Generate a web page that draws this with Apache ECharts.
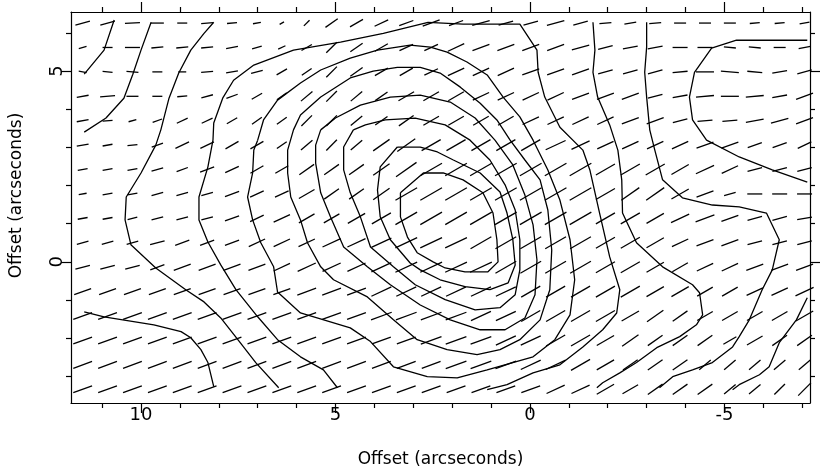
<!DOCTYPE html>
<html>
<head>
<meta charset="utf-8">
<script src="https://cdn.jsdelivr.net/npm/echarts@6/dist/echarts.min.js"></script>
<style>
  html, body { margin: 0; padding: 0; background: #fff; }
  #chart { width: 825px; height: 475px; }
</style>
</head>
<body>
<div id="chart"></div>
<script>
// 偏振矢量网格位置（角秒）
var gridX = [11.5, 10.86, 10.22, 9.58, 8.94, 8.3, 7.66, 7.02, 6.38, 5.74,
             5.1, 4.46, 3.82, 3.18, 2.54, 1.9, 1.26, 0.62, -0.02, -0.66,
             -1.3, -1.94, -2.58, -3.22, -3.86, -4.5, -5.14, -5.78, -6.42, -7.06];
var gridY = [6.26, 5.62, 4.98, 4.34, 3.7, 3.06, 2.42, 1.78, 1.14, 0.5,
             -0.14, -0.78, -1.42, -2.06, -2.7, -3.34];

// 每行矢量的方向角（度，从水平量起）
var vecAngle = [
  [15,15,3,0,0,5,5,10,30,45, 35,30,25,20,20,20,15,15,15,15, 15,5,10,5,0,0,0,5,5,10],
  [15,0,0,5,5,5,10,15,25,30, 45,35,30,25,25,25,20,20,20,20, 15,15,10,10,0,0,-5,-5,0,10],
  [-10,-5,-5,0,0,5,10,15,30,35, 45,35,30,30,25,25,25,25,20,20, 20,15,15,15,5,0,-5,-5,10,15],
  [10,5,0,0,5,15,20,30,35,40, 45,40,35,30,30,30,25,25,25,25, 20,20,20,15,10,5,0,5,10,20],
  [10,5,15,20,25,25,30,35,35,45, 45,40,35,35,30,30,30,30,25,25, 25,25,20,20,15,5,5,10,15,20],
  [10,10,5,20,25,25,30,30,35,40, 45,40,35,35,30,30,30,30,30,25, 25,25,25,25,25,20,20,20,20,25],
  [10,10,10,15,20,20,25,30,30,35, 35,35,35,35,30,30,30,30,30,30, 30,30,30,30,30,25,25,15,15,15],
  [10,10,10,15,15,15,20,25,25,30, 35,35,35,30,30,30,30,30,30,30, 30,30,35,35,30,20,15,0,0,0],
  [10,10,15,15,15,15,20,25,25,30, 30,30,30,30,30,30,30,30,30,30, 30,30,30,30,25,20,20,15,15,10],
  [15,15,15,15,20,20,20,25,25,25, 25,25,25,25,25,25,30,30,30,30, 30,30,30,30,25,20,20,15,15,15],
  [15,15,15,20,20,20,20,20,25,25, 25,25,25,25,25,25,25,30,30,30, 30,30,30,30,30,25,25,20,20,20],
  [20,20,20,20,20,20,20,20,20,20, 20,20,25,25,25,25,25,25,30,30, 30,30,30,30,30,30,30,25,25,25],
  [20,20,20,20,20,20,20,20,20,20, 20,20,20,20,20,20,25,25,30,30, 30,30,30,35,35,30,30,30,30,30],
  [20,20,20,20,20,20,20,20,20,20, 20,20,20,20,20,20,20,25,25,30, 30,30,35,35,35,35,30,30,35,35],
  [20,20,20,20,20,20,20,20,20,20, 20,20,20,20,20,20,20,20,25,25, 30,30,35,35,35,40,40,40,40,40],
  [20,20,20,20,20,20,20,20,20,20, 20,20,20,20,20,20,20,20,20,25, 25,30,30,35,35,35,40,40,45,45]
];

// 每行矢量的长度（偏振度）
var vecLen = [
  [15,15,15,13,10,12,10,8,5,8, 15,15,15,15,18,15,18,15,15,18, 15,12,12,12,12,12,12,10,10,10],
  [8,10,15,12,12,12,12,10,8,12, 15,15,15,15,15,18,18,18,18,18, 18,15,15,15,15,15,12,12,12,12],
  [8,10,12,10,8,12,12,12,12,12, 15,15,15,15,15,18,18,18,18,18, 18,15,15,15,15,18,18,15,15,15],
  [12,15,12,10,10,12,12,12,12,15, 15,15,15,18,18,18,18,18,18,18, 18,18,18,15,15,18,18,18,15,18],
  [12,10,8,10,12,12,12,12,12,15, 15,15,15,18,18,18,18,18,18,18, 18,18,18,18,15,15,15,18,18,18],
  [12,10,10,12,15,15,15,15,12,15, 15,15,20,22,22,22,22,22,22,22, 20,18,18,18,18,18,18,15,15,15],
  [10,10,10,12,12,15,15,15,15,18, 18,18,20,25,25,25,25,25,25,25, 25,22,22,22,20,20,18,15,15,15],
  [8,10,10,12,12,12,15,15,15,18, 18,18,20,25,25,25,25,25,25,25, 25,22,22,22,20,18,12,15,15,15],
  [10,10,10,12,12,12,15,15,18,18, 18,20,22,25,25,25,25,25,25,25, 25,22,22,20,20,20,18,15,15,15],
  [12,12,12,15,15,15,15,18,18,18, 20,20,22,24,24,24,24,24,24,24, 24,22,22,20,18,18,18,15,15,15],
  [15,15,15,15,18,18,18,18,18,20, 20,20,22,24,24,24,24,24,24,24, 24,22,22,20,18,18,18,18,18,18],
  [18,18,18,18,18,18,18,18,18,20, 20,20,22,22,22,22,22,22,22,22, 22,22,22,20,20,18,18,18,18,20],
  [20,20,20,20,20,20,20,20,20,20, 20,20,22,22,22,22,22,22,22,22, 22,22,20,20,18,18,18,18,18,20],
  [20,20,20,20,20,20,20,20,20,20, 20,20,20,20,22,22,22,22,22,22, 22,20,20,18,18,18,15,18,18,18],
  [20,20,20,20,20,20,20,20,20,20, 20,20,20,20,20,22,22,22,22,22, 22,20,18,18,18,15,15,15,15,15],
  [20,20,20,20,20,20,20,20,20,20, 20,20,20,20,20,20,20,20,20,20, 20,20,18,18,18,18,15,15,15,18]
];

// 等值线（角秒）
var contourA = [[10.69,6.34],[10.95,5.55],[11.46,4.92]];
var contourB = [[9.74,6.28],[10.0,5.55],[10.21,4.92],[10.44,4.29],[10.9,3.77],[11.46,3.4]];
var contourC = [[8.13,6.28],[8.38,5.99],[8.72,5.55],[9.03,4.95],[9.28,4.29],[9.49,3.46],[9.62,3.06],
  [10.0,2.33],[10.38,1.7],[10.41,1.1],[10.26,0.45],[9.62,-0.16],[8.85,-0.73],[8.38,-1.05],
  [7.95,-1.47],[7.51,-2.04],[7.05,-2.64],[6.46,-3.3]];
var contourD = [[11.46,-1.31],[10.95,-1.44],[9.67,-1.65],[8.97,-1.83],[8.72,-1.99],[8.46,-2.3],
  [8.28,-2.64],[8.13,-3.27]];
var contourE = [[4.95,-3.3],[5.31,-2.83],[5.9,-2.49],[6.49,-2.04],[7.0,-1.44],[7.56,-0.73],[7.95,-0.08],
  [8.28,0.52],[8.51,1.1],[8.51,1.7],[8.28,2.49],[8.15,3.19],[8.13,3.64],[7.9,4.29],[7.62,4.76],
  [7.1,5.16],[6.08,5.55],[4.87,5.76],[3.77,5.99],[2.62,6.28],[1.72,6.23],[0.26,6.23],[-0.18,5.55],
  [-0.21,4.97],[-0.38,4.32],[-0.77,3.53],[-1.36,2.93],[-1.54,2.41],[-1.79,1.28],[-2.05,0.13],
  [-2.31,-0.73],[-2.23,-1.34],[-1.87,-1.78],[-1.36,-2.23],[-0.77,-2.7],[-0.08,-2.91],[0.59,-3.22],[1.1,-3.35]];
var contourR2 = [[7.0,3.19],[6.85,3.72],[6.49,4.24],[5.9,4.69],[5.38,5.03],[4.62,5.34],[3.92,5.55],
  [3.08,5.68],[2.56,5.63],[2.13,5.5],[1.62,5.24],[1.1,4.9],[0.69,4.32],[0.26,3.8],[-0.08,3.19],
  [-0.46,2.41],[-0.77,1.62],[-1.03,0.58],[-1.15,-0.47],[-1.03,-1.39],[-0.64,-2.04],[-0.08,-2.49],
  [1.1,-2.83],[1.87,-3.04],[2.64,-3.01],[3.51,-2.75],[4.1,-2.09],[4.62,-1.73],[5.9,-1.34],[6.49,-0.79],
  [6.59,-0.13],[6.92,0.5],[7.13,1.1],[7.26,1.7],[7.13,2.33],[7.1,2.93],[7.0,3.19]];
var contourR3 = [[6.08,3.46],[5.9,3.85],[5.38,4.32],[4.62,4.82],[4.03,5.0],[3.41,5.1],[2.82,5.1],
  [2.31,4.95],[1.79,4.58],[1.28,4.16],[0.85,3.72],[0.51,3.19],[0.13,2.67],[-0.26,2.15],[-0.46,1.36],
  [-0.56,0.31],[-0.51,-0.73],[-0.26,-1.52],[0.26,-2.04],[0.77,-2.3],[1.36,-2.43],[2.13,-2.3],
  [2.9,-2.04],[3.51,-1.52],[4.18,-0.92],[5.05,-0.47],[5.38,-0.13],[5.72,0.5],[5.9,1.1],[6.15,1.7],
  [6.23,2.33],[6.23,2.93],[6.08,3.46]];
var contourR4 = [[5.38,3.46],[5.0,3.77],[4.36,4.11],[3.59,4.32],[2.82,4.37],[2.05,4.19],[1.41,3.77],
  [0.9,3.19],[0.44,2.54],[0.13,1.75],[-0.08,0.97],[-0.18,0.05],[-0.13,-0.86],[0.13,-1.47],[0.64,-1.78],
  [1.28,-1.78],[2.05,-1.52],[2.82,-1.13],[3.59,-0.6],[4.18,-0.13],[4.79,0.39],[5.13,1.18],[5.38,1.81],
  [5.51,2.59],[5.51,3.06],[5.38,3.46]];
var contourR5 = [[4.54,3.46],[4.23,3.59],[3.72,3.72],[2.95,3.77],[2.18,3.59],[1.54,3.19],[1.03,2.67],
  [0.64,2.02],[0.38,1.36],[0.26,0.58],[0.26,-0.21],[0.38,-0.86],[0.77,-1.2],[1.41,-1.26],[2.18,-0.99],
  [2.95,-0.6],[3.51,-0.13],[4.1,0.39],[4.36,1.18],[4.62,1.81],[4.79,2.41],[4.79,3.01],[4.54,3.46]];
var contourR6 = [[3.41,3.01],[2.82,3.01],[2.38,2.88],[1.97,2.67],[1.28,2.33],[0.77,1.83],[0.59,1.28],
  [0.44,0.58],[0.38,-0.08],[0.56,-0.55],[1.03,-0.73],[1.67,-0.65],[2.31,-0.47],[2.82,-0.21],[3.08,-0.03],
  [3.59,0.58],[3.85,1.18],[3.92,1.88],[3.85,2.49],[3.41,3.01]];
var contourR7 = [[3.33,1.81],[2.74,2.33],[2.23,2.33],[1.72,2.15],[1.21,1.81],[0.95,1.28],[0.85,0.58],
  [0.82,0.0],[1.08,-0.26],[1.67,-0.26],[2.18,-0.16],[2.49,0.0],[2.9,0.24],[3.15,0.65],[3.33,1.18],[3.33,1.81]];
var contourF = [[-3.0,6.28],[-3.0,5.63],[-2.95,4.97],[-3.0,4.32],[-3.08,3.46],[-3.21,2.93],[-3.41,2.15],
  [-3.92,1.68],[-4.69,1.49],[-5.38,1.44],[-6.08,1.28],[-6.41,0.58],[-6.23,-0.21],[-5.97,-0.73],
  [-5.64,-1.52],[-5.38,-1.96],[-5.21,-2.23],[-4.69,-2.64],[-4.18,-2.83],[-3.67,-3.01],[-3.33,-3.3]];
var contourG = [[-1.62,6.28],[-1.67,5.55],[-1.62,4.97],[-1.74,4.32],[-2.05,3.59],[-2.26,2.93],[-2.36,2.15],
  [-2.38,1.28],[-2.74,0.5],[-3.41,-0.13],[-4.18,-0.6],[-4.36,-0.81],[-4.44,-1.39],[-4.28,-1.65],
  [-3.85,-1.96],[-3.26,-2.25],[-2.74,-2.64],[-2.31,-2.91],[-1.87,-3.17],[-1.72,-3.3]];
var contourH = [[-7.13,-0.94],[-6.85,-1.52],[-6.41,-2.12],[-6.15,-2.75],[-5.9,-2.96],[-5.38,-3.22],[-5.21,-3.35]];
var contourR1 = [[-7.13,5.81],[-5.31,5.81],[-4.67,5.6],[-4.23,4.97],[-4.1,4.32],[-4.18,3.72],[-4.54,3.19],
  [-5.38,2.75],[-6.23,2.41],[-7.13,2.09]];

var contours = [contourA, contourB, contourC, contourD, contourE, contourR2, contourR3, contourR4,
  contourR5, contourR6, contourR7, contourF, contourG, contourH, contourR1];

// 坐标轴刻度
var xMajorTicks = [10, 5, 0, -5];
var xMinorTicks = [11, 9, 8, 7, 6, 4, 3, 2, 1, -1, -2, -3, -4, -6, -7];
var yMajorTicks = [0, 5];
var yMinorTicks = [-3, -2, -1, 1, 2, 3, 4, 6];

var X_MIN = -7.2, X_MAX = 11.8, Y_MIN = -3.7, Y_MAX = 6.55;
var VEC_SCALE = 1.0;
var FONT = 'DejaVu Sans';

var vecData = [];
for (var j = 0; j < gridY.length; j++) {
  for (var i = 0; i < gridX.length; i++) {
    vecData.push([gridX[i], gridY[j], vecAngle[j][i], vecLen[j][i]]);
  }
}

var chart = echarts.init(document.getElementById('chart'));

function xAxisOf(pos, major, showLabel) {
  return {
    type: 'value', position: pos, min: X_MIN, max: X_MAX, inverse: true,
    axisLine: { show: major, onZero: false, lineStyle: { color: '#000', width: 1.2 } },
    axisTick: { show: true, inside: false, length: major ? 10 : 5,
      customValues: major ? xMajorTicks : xMinorTicks, lineStyle: { color: '#000', width: 1.2 } },
    axisLabel: { show: showLabel, customValues: xMajorTicks, color: '#000', fontSize: 18,
      fontFamily: FONT, margin: 3 },
    splitLine: { show: false },
    name: showLabel ? 'Offset (arcseconds)' : '',
    nameLocation: 'middle', nameGap: 48,
    nameTextStyle: { color: '#000', fontSize: 17, fontFamily: FONT }
  };
}
function yAxisOf(pos, major, showLabel) {
  return {
    type: 'value', position: pos, min: Y_MIN, max: Y_MAX,
    axisLine: { show: major, onZero: false, lineStyle: { color: '#000', width: 1.2 } },
    axisTick: { show: true, inside: false, length: major ? 10 : 5,
      customValues: major ? yMajorTicks : yMinorTicks, lineStyle: { color: '#000', width: 1.2 } },
    axisLabel: { show: showLabel, customValues: yMajorTicks, color: '#000', fontSize: 18,
      fontFamily: FONT, rotate: 90, margin: 5 },
    splitLine: { show: false },
    name: showLabel ? 'Offset (arcseconds)' : '',
    nameLocation: 'middle', nameRotate: 90, nameGap: 46,
    nameTextStyle: { color: '#000', fontSize: 17, fontFamily: FONT, padding: [0, 0, 0, 24] }
  };
}

var series = [{
  type: 'custom',
  xAxisIndex: 0, yAxisIndex: 0,
  data: vecData,
  silent: true,
  renderItem: function (params, api) {
    var c = api.coord([api.value(0), api.value(1)]);
    var a = api.value(2) * Math.PI / 180;
    var h = api.value(3) * VEC_SCALE / 2;
    var dx = Math.cos(a) * h, dy = Math.sin(a) * h;
    return {
      type: 'line',
      shape: { x1: c[0] - dx, y1: c[1] + dy, x2: c[0] + dx, y2: c[1] - dy },
      style: { stroke: '#000', lineWidth: 1.3 }
    };
  }
}];
contours.forEach(function (c) {
  series.push({
    type: 'line', xAxisIndex: 0, yAxisIndex: 0, data: c,
    showSymbol: false, symbol: 'none', silent: true,
    lineStyle: { color: '#000', width: 1.3 }
  });
});

var option = {
  animation: false,
  backgroundColor: '#fff',
  grid: { left: 70, right: 15, top: 12, bottom: 72, containLabel: false },
  xAxis: [xAxisOf('bottom', true, true), xAxisOf('bottom', false, false),
          xAxisOf('top', true, false), xAxisOf('top', false, false)],
  yAxis: [yAxisOf('left', true, true), yAxisOf('left', false, false),
          yAxisOf('right', true, false), yAxisOf('right', false, false)],
  series: series
};
chart.setOption(option);
</script>
</body>
</html>
